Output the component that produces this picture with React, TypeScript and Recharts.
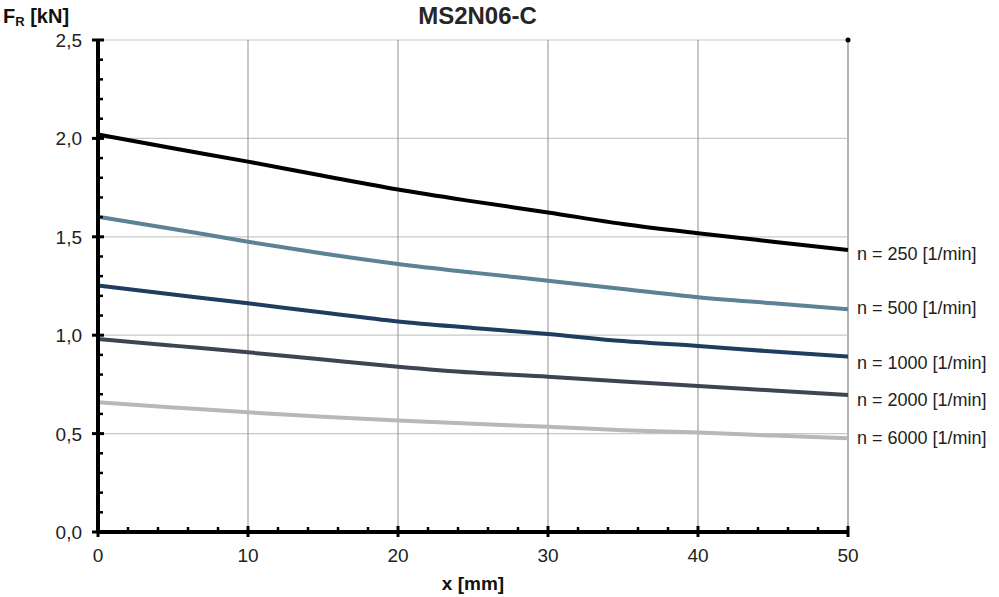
import { LabelList, Line, LineChart, ReferenceDot, ReferenceLine, XAxis, YAxis } from "recharts";

const xValues = [0, 5, 10, 15, 20, 25, 30, 35, 40, 45, 50];
const n250 = [2.02, 1.95, 1.882, 1.81, 1.74, 1.68, 1.624, 1.565, 1.518, 1.475, 1.433];
const n500 = [1.602, 1.54, 1.475, 1.415, 1.362, 1.318, 1.277, 1.235, 1.193, 1.162, 1.132];
const n1000 = [1.252, 1.207, 1.162, 1.115, 1.07, 1.037, 1.006, 0.97, 0.945, 0.917, 0.891];
const n2000 = [0.981, 0.947, 0.913, 0.876, 0.84, 0.81, 0.789, 0.765, 0.742, 0.719, 0.696];
const n6000 = [0.659, 0.633, 0.608, 0.586, 0.567, 0.55, 0.535, 0.517, 0.505, 0.49, 0.476];

const xTicks = [0, 2, 4, 6, 8, 10, 12, 14, 16, 18, 20, 22, 24, 26, 28, 30, 32, 34, 36, 38, 40, 42, 44, 46, 48, 50];
const yTicks = [0, 0.1, 0.2, 0.3, 0.4, 0.5, 0.6, 0.7, 0.8, 0.9, 1, 1.1, 1.2, 1.3, 1.4, 1.5, 1.6, 1.7, 1.8, 1.9, 2, 2.1, 2.2, 2.3, 2.4, 2.5];
const gridX = [10, 20, 30, 40];
const gridY = [0.5, 1, 1.5, 2, 2.5];

const series = [
  { key: "n250", label: "n = 250 [1/min]", values: n250, color: "#000000", dy: 4 },
  { key: "n500", label: "n = 500 [1/min]", values: n500, color: "#5d8196", dy: -1 },
  { key: "n1000", label: "n = 1000 [1/min]", values: n1000, color: "#1f3d5e", dy: 6 },
  { key: "n2000", label: "n = 2000 [1/min]", values: n2000, color: "#3c4551", dy: 5 },
  { key: "n6000", label: "n = 6000 [1/min]", values: n6000, color: "#b8b8b8", dy: 0 },
];

const data = xValues.map((x, i) => {
  const row: Record<string, number> = { x };
  series.forEach((s) => {
    row[s.key] = s.values[i];
  });
  return row;
});

const font = "'Liberation Sans', Arial, sans-serif";

function YTick(props: any) {
  const { x, y, payload } = props;
  const v = payload.value as number;
  const major = Math.round(v * 10) % 5 === 0;
  return (
    <g>
      {major ? (
        <line x1={x - 6} x2={x + 6} y1={y} y2={y} stroke="#000" strokeWidth={3} />
      ) : (
        <line x1={x} x2={x + 5} y1={y} y2={y} stroke="#000" strokeWidth={2.5} />
      )}
      {major ? (
        <text x={x - 16} y={y + 7} textAnchor="end" fontSize={19} fill="#222" fontFamily={font}>
          {v.toFixed(1).replace(".", ",")}
        </text>
      ) : null}
    </g>
  );
}

function XTick(props: any) {
  const { x, y, payload } = props;
  const v = payload.value as number;
  const major = v % 10 === 0;
  return (
    <g>
      {major ? (
        <line x1={x} x2={x} y1={y - 6} y2={y + 5} stroke="#000" strokeWidth={3} />
      ) : (
        <line x1={x} x2={x} y1={y - 5} y2={y} stroke="#000" strokeWidth={2.5} />
      )}
      {major ? (
        <text x={x} y={y + 30} textAnchor="middle" fontSize={19} fill="#222" fontFamily={font}>
          {v}
        </text>
      ) : null}
    </g>
  );
}

function endLabel(text: string, dy: number) {
  return (props: any) => {
    const { x, y, index } = props;
    if (index !== xValues.length - 1) return null;
    return (
      <text x={x + 9} y={y + dy + 6} fontSize={18} fill="#222" fontFamily={font}>
        {text}
      </text>
    );
  };
}

export default function App() {
  return (
    <div style={{ position: "absolute", left: 0, top: 0, width: 999, height: 597, background: "#fff", fontFamily: font }}>
      <div style={{ position: "absolute", left: 0, width: 955, top: 3, textAlign: "center", fontSize: 24, fontWeight: 700, color: "#262626", lineHeight: "26px" }}>
        MS2N06-C
      </div>
      <div style={{ position: "absolute", left: 3, top: 4, fontSize: 20, fontWeight: 700, color: "#111", lineHeight: "24px", whiteSpace: "nowrap" }}>
        F<sub style={{ fontSize: 13, verticalAlign: "-3px" }}>R</sub> [kN]
      </div>
      <LineChart width={999} height={597} data={data} margin={{ top: 40, right: 151, bottom: 0, left: 0 }}>
        {gridY.map((v) => (
          <ReferenceLine key={`gy${v}`} y={v} stroke="#c8c8c8" strokeWidth={1.2} />
        ))}
        {gridX.map((v) => (
          <ReferenceLine key={`gx${v}`} x={v} stroke="#8f8f8f" strokeWidth={1} />
        ))}
        <ReferenceLine x={50} stroke="#b4b4b4" strokeWidth={2} />
        <XAxis
          type="number"
          dataKey="x"
          domain={[0, 50]}
          ticks={xTicks}
          interval={0}
          tickSize={0}
          tickMargin={0}
          tickLine={false}
          height={65}
          axisLine={{ stroke: "#000", strokeWidth: 4 }}
          tick={<XTick />}
          label={{ value: "x [mm]", position: "insideBottom", offset: 7, style: { fontSize: 19, fontWeight: 700, fill: "#111", fontFamily: font } }}
        />
        <YAxis
          type="number"
          domain={[0, 2.5]}
          ticks={yTicks}
          interval={0}
          tickSize={0}
          tickMargin={0}
          tickLine={false}
          width={98}
          axisLine={{ stroke: "#000", strokeWidth: 4 }}
          tick={<YTick />}
        />
        {series.map((s) => (
          <Line
            key={s.key}
            type="monotone"
            dataKey={s.key}
            stroke={s.color}
            strokeWidth={4}
            dot={false}
            activeDot={false}
            isAnimationActive={false}
          >
            <LabelList dataKey={s.key} content={endLabel(s.label, s.dy)} />
          </Line>
        ))}
        <ReferenceDot x={50} y={2.5} r={2.5} fill="#000" stroke="none" ifOverflow="visible" />
      </LineChart>
    </div>
  );
}
